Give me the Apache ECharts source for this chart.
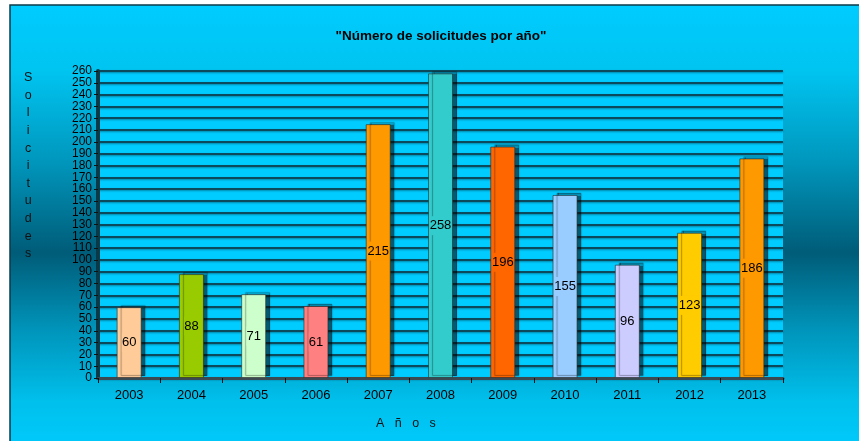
<!DOCTYPE html>
<html><head><meta charset="utf-8">
<script src="https://cdn.jsdelivr.net/npm/echarts@6/dist/echarts.min.js"></script>
<style>html,body{margin:0;padding:0;background:#fff}#c{width:859px;height:441px}</style>
</head><body><div id="c"></div>
<script>
const years = ['2003','2004','2005','2006','2007','2008','2009','2010','2011','2012','2013'];
const solicitudes = [60, 88, 71, 61, 215, 258, 196, 155, 96, 123, 186];
const barColors = ['#FFCC99','#99CC00','#CCFFCC','#FF8080','#FF9900','#33CCCC','#FF6600','#99CCFF','#CCCCFF','#FFCC00','#FF9900'];
const titleText = '"Número de solicitudes por año"';
const yName = 'Solicitudes';
const xName = 'Años';

const chart = echarts.init(document.getElementById('c'));
const font = 'Liberation Sans, Arial, sans-serif';
chart.setOption({
  backgroundColor: '#ffffff',
  animation: false,
  graphic: [
    { type: 'rect', z: -10, shape: { x: 10, y: 5, width: 860, height: 450 },
      style: { stroke: '#0b3b4a', lineWidth: 1.5,
        fill: new echarts.graphic.LinearGradient(0, 0, 0, 1, [
          { offset: 0, color: '#00CCFF' },
          { offset: 0.15, color: '#00C4F0' },
          { offset: 0.35, color: '#0096BC' },
          { offset: 0.55, color: '#005C78' },
          { offset: 0.72, color: '#0094BA' },
          { offset: 0.88, color: '#00C0EC' },
          { offset: 1, color: '#00CCFF' }
        ]) } },
    { type: 'text', left: 24, top: 69, z: 10,
      style: { text: yName.split('').join('\n'), font: '12.5px ' + font, fill: '#111', lineHeight: 17.6, textAlign: 'center' } },
    { type: 'text', left: 376, top: 417, z: 10,
      style: { text: xName.split('').join('   '), font: '12.5px ' + font, fill: '#111' } }
  ],
  title: {
    text: titleText, left: 436, top: 24, textAlign: 'center',
    textStyle: { fontFamily: font, fontSize: 13.5, fontWeight: 'bold', color: '#000' }
  },
  grid: { left: 98, right: 76, top: 71, bottom: 63, show: true, backgroundColor: '#00CCFF', borderWidth: 0 },
  xAxis: {
    type: 'category', data: years,
    axisLine: { lineStyle: { color: '#3a4a52', width: 3 } },
    axisTick: { show: true, length: 5, lineStyle: { color: '#111' } },
    axisLabel: { fontFamily: font, fontSize: 13, color: '#000', margin: 11 }
  },
  yAxis: {
    type: 'value', min: 0, max: 260, interval: 10,
    axisLine: { show: true, lineStyle: { color: '#0a3a48', width: 4 } },
    axisTick: { show: true, length: 4, lineStyle: { color: '#111' } },
    axisLabel: { fontFamily: font, fontSize: 12, color: '#000', margin: 6, lineHeight: 12 },
    splitLine: { lineStyle: { color: '#0b4a5c', width: 2, shadowColor: 'rgba(0,0,0,0.35)', shadowBlur: 2, shadowOffsetY: 1 } }
  },
  series: [{
    type: 'bar', barWidth: 25,
    data: solicitudes.map((v, i) => ({
      value: v,
      itemStyle: { color: barColors[i] },
      label: { backgroundColor: barColors[i] }
    })),
    itemStyle: { borderColor: 'rgba(40,40,40,0.6)', borderWidth: 1, shadowColor: 'rgba(0,0,0,0.55)', shadowOffsetX: 4, shadowOffsetY: -2, shadowBlur: 1 },
    label: { show: true, position: 'inside', fontFamily: font, fontSize: 13, color: '#000', padding: [3, 0] }
  }]
});
</script></body></html>
